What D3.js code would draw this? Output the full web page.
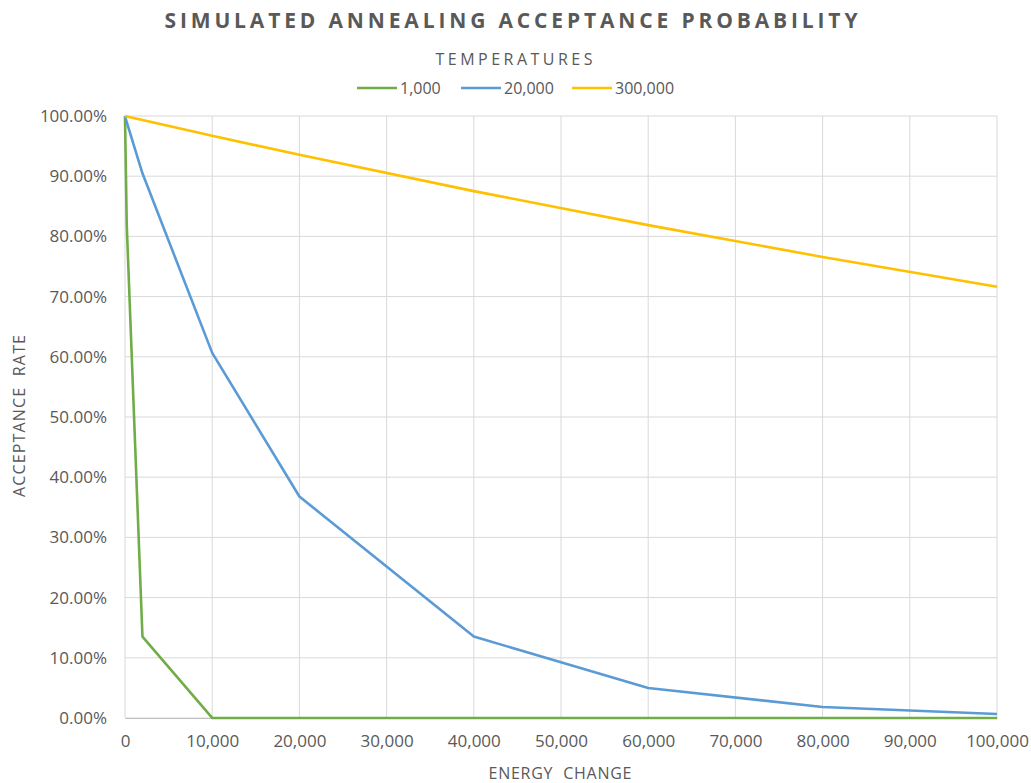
<!DOCTYPE html>
<html><head><meta charset="utf-8">
<script src="https://cdn.jsdelivr.net/npm/d3@7"></script>
<style>body{margin:0;background:#fff;} text{font-family:"Open Sans",sans-serif;fill:#595959;}</style>
</head><body>
<svg id="c" width="1031" height="783"></svg>
<script>
const energy = [0, 200, 2000, 10000, 20000, 40000, 60000, 80000, 100000];
const seriesNames = ["1,000", "20,000", "300,000"];
const t1000 = [1, 0.8187, 0.1353, 0.00005, 0, 0, 0, 0, 0];
const t20000 = [1, 0.990, 0.9048, 0.6065, 0.3679, 0.1353, 0.0498, 0.0183, 0.0067];
const t300000 = [1, 0.9993, 0.9934, 0.9672, 0.9355, 0.8752, 0.8187, 0.7659, 0.7165];
const colors = ["#70ad47", "#5b9bd5", "#ffc000"];
const xTicks = [0,10000,20000,30000,40000,50000,60000,70000,80000,90000,100000];
const yTicks = [0,0.1,0.2,0.3,0.4,0.5,0.6,0.7,0.8,0.9,1];

const svg = d3.select("#c");
const L=125, R=997, T=116, B=718;
const x = d3.scaleLinear().domain([0,100000]).range([L,R]);
const y = d3.scaleLinear().domain([0,1]).range([B,T]);

// grid
svg.append("g").selectAll("line").data(yTicks).join("line")
  .attr("x1",L).attr("x2",R).attr("y1",d=>y(d)).attr("y2",d=>y(d))
  .attr("stroke","#d9d9d9").attr("stroke-width",1);
svg.append("g").selectAll("line").data(xTicks).join("line")
  .attr("y1",T).attr("y2",B).attr("x1",d=>x(d)).attr("x2",d=>x(d))
  .attr("stroke","#d9d9d9").attr("stroke-width",1);

// axes
const xa = svg.append("g").attr("transform",`translate(0,${B})`)
  .call(d3.axisBottom(x).tickValues(xTicks).tickSize(0).tickPadding(17).tickFormat(d3.format(",")));
xa.select(".domain").attr("stroke","#bfbfbf");
xa.selectAll("text").attr("font-size",17).style("fill","#595959");
const ya = svg.append("g").attr("transform",`translate(${L},0)`)
  .call(d3.axisLeft(y).tickValues(yTicks).tickSize(0).tickPadding(18).tickFormat(d=>(d*100).toFixed(2)+"%"));
ya.select(".domain").remove();
ya.selectAll("text").attr("font-size",17).style("fill","#595959");

// lines
const all = [t1000, t20000, t300000];
const line = d3.line().x((d,i)=>x(energy[i])).y(d=>y(d));
all.forEach((s,k)=>{
  svg.append("path").datum(s).attr("d",line).attr("fill","none")
    .attr("stroke",colors[k]).attr("stroke-width",2.6).attr("stroke-linejoin","round");
});

// title
svg.append("text").attr("x",511).attr("y",28).attr("text-anchor","middle")
  .attr("font-size",21).attr("font-weight","bold").attr("textLength",693).attr("lengthAdjust","spacing")
  .text("SIMULATED ANNEALING ACCEPTANCE PROBABILITY");
svg.append("text").attr("x",514).attr("y",65).attr("text-anchor","middle")
  .attr("font-size",16).attr("textLength",157).attr("lengthAdjust","spacing")
  .text("TEMPERATURES");

// legend
const legX = [357, 461, 572];
seriesNames.forEach((n,k)=>{
  svg.append("line").attr("x1",legX[k]).attr("x2",legX[k]+40).attr("y1",88).attr("y2",88)
    .attr("stroke",colors[k]).attr("stroke-width",2.6);
  svg.append("text").attr("x",legX[k]+43).attr("y",94).attr("font-size",16).text(n);
});

// axis titles
svg.append("text").attr("x",560).attr("y",779).attr("text-anchor","middle")
  .attr("font-size",16).attr("textLength",143).attr("lengthAdjust","spacing")
  .style("white-space","pre").text("ENERGY  CHANGE");
svg.append("text").attr("transform","translate(25,416) rotate(-90)").attr("text-anchor","middle")
  .attr("font-size",16).attr("textLength",162).attr("lengthAdjust","spacing")
  .style("white-space","pre").text("ACCEPTANCE  RATE");
</script>
</body></html>
